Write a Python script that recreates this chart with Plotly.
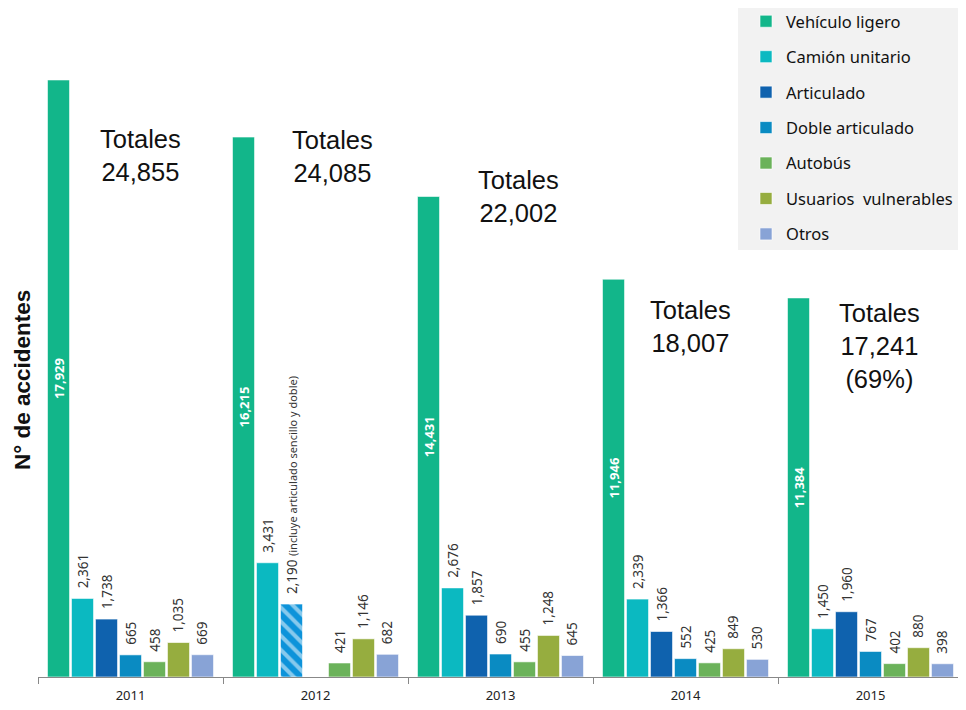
import plotly.graph_objects as go

years = ["2011", "2012", "2013", "2014", "2015"]
series_names = ["Vehículo ligero", "Camión unitario", "Articulado", "Doble articulado",
                "Autobús", "Usuarios  vulnerables", "Otros"]
vehiculo_ligero = [17929, 16215, 14431, 11946, 11384]
camion_unitario = [2361, 3431, 2676, 2339, 1450]
articulado = [1738, 2190, 1857, 1366, 1960]
doble_articulado = [665, None, 690, 552, 767]
autobus = [458, 421, 455, 425, 402]
usuarios_vulnerables = [1035, 1146, 1248, 849, 880]
otros = [669, 682, 645, 530, 398]
totales = ["24,855", "24,085", "22,002", "18,007", "17,241<br>(69%)"]
nota_2012 = "(incluye articulado sencillo y doble)"

colors = ["#12B68A", "#0BB9C1", "#0F62AE", "#0A8BC2", "#6BB25A", "#96AD3F", "#88A3D6"]
values = [vehiculo_ligero, camion_unitario, articulado, doble_articulado,
          autobus, usuarios_vulnerables, otros]

NB = "\u00a0"

def fmt(v, pad=""):
    return "" if v is None else pad + f"{v:,}"

# page geometry (the html body adds an 8px offset)
OFF = 8
PL, PR, PT, PB = 38, 963, 11, 677  # desired plot area in page pixels
W, H = 966 - OFF, 710 - OFF
YMAX = 20000
UPP = YMAX / (PB - PT)  # data units per pixel

def px_x(X):
    return (X - PL) / (PR - PL)

def px_y(Y):
    return (PB - Y) / (PB - PT)

fig = go.Figure()
label_font = dict(family="Noto Sans, Open Sans, sans-serif", size=13.5, color="#333333")
for i, (name, vals, col) in enumerate(zip(series_names, values, colors)):
    marker = dict(color=col, line=dict(color="rgba(255,255,255,0.6)", width=1))
    if i == 0:
        texts = [fmt(v) for v in vals]
        kw = dict(textposition="inside", insidetextanchor="middle",
                  insidetextfont=dict(family="Noto Sans, Open Sans, sans-serif", size=13,
                                      color="white", weight="bold"))
    else:
        texts = [fmt(v, NB + NB) for v in vals]
        kw = dict(textposition="outside", outsidetextfont=label_font)
    if i == 2:
        texts[1] = texts[1] + NB + '<span style="font-size:11px">' + nota_2012 + "</span>"
        marker = dict(color=[col, "#0D93DA", col, col, col],
                      line=dict(color="rgba(255,255,255,0.6)", width=1),
                      pattern=dict(shape=["", "\\", "", "", ""], fgcolor="#1B66BA",
                                   bgcolor="#0D93DA", fillmode="overlay", size=10, solidity=0.4))
    fig.add_trace(go.Bar(
        x=years, y=vals, name=name, marker=marker, text=texts,
        textangle=-90, cliponaxis=False, constraintext="none",
        legendgroup=name, hoverinfo="x+y+name", **kw))

# totals text centres (page pixels)
tot_x = [140, 332, 518, 690, 879]
tot_yc = [155.5, 156, 196.5, 326.5, 345.5]
for k, (t, X, Y) in enumerate(zip(totales, tot_x, tot_yc)):
    cx = (PL + (PR - PL) / len(years) * (k + 0.5))
    fig.add_annotation(x=k + (X - cx) / ((PR - PL) / len(years)), y=(PB - Y) * UPP,
                       xref="x", yref="y", text="Totales<br>" + t,
                       showarrow=False, font=dict(family="Arial, Liberation Sans", size=25.5, color="#111111"),
                       xanchor="center", yanchor="middle")

fig.add_annotation(x=px_x(22), y=px_y(380), xref="paper", yref="paper", text="<b>N° de accidentes</b>",
                   textangle=-90, showarrow=False,
                   font=dict(family="Arial, Liberation Sans", size=22.5, color="#111111"),
                   xanchor="center", yanchor="middle")

# legend background box
fig.add_shape(type="rect", xref="paper", yref="paper", layer="below",
              x0=px_x(738), x1=px_x(970), y0=px_y(250), y1=px_y(-5),
              fillcolor="#F2F2F2", line=dict(width=0))

fig.update_layout(
    width=W, height=H,
    margin=dict(l=PL - OFF, r=W - (PR - OFF), t=PT - OFF, b=H - (PB - OFF), autoexpand=False),
    paper_bgcolor="white", plot_bgcolor="white",
    barmode="group", bargap=0.092, bargroupgap=0.08,
    showlegend=True,
    legend=dict(x=px_x(746), y=px_y(4), xanchor="left", yanchor="top",
                bgcolor="rgba(0,0,0,0)", traceorder="grouped", tracegroupgap=11,
                font=dict(family="Noto Sans, Open Sans, sans-serif", size=16.5, color="#111111"),
                itemwidth=30, borderwidth=0),
    xaxis=dict(showline=True, linecolor="#888888", ticks="outside", tickson="boundaries",
               ticklen=6, tickcolor="#888888", ticklabelstandoff=6,
               tickfont=dict(family="Noto Sans, Open Sans, sans-serif", size=13, color="#222222")),
    yaxis=dict(range=[0, YMAX], showgrid=False, showticklabels=False, zeroline=False,
               showline=False),
)

fig.write_html("out.html")
